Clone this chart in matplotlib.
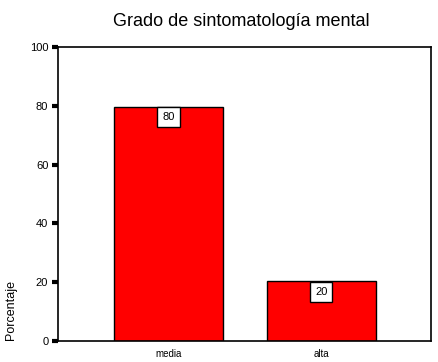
import matplotlib
matplotlib.use("Agg")
import matplotlib.pyplot as plt

categories = ["media", "alta"]
values = [79.7, 20.3]
labels = ["80", "20"]
yticks = [0, 20, 40, 60, 80, 100]

plt.rcParams['font.family'] = ['Liberation Sans', 'DejaVu Sans']

fig = plt.figure(figsize=(4.39, 3.62), dpi=100)
W, H = 439, 362
ax = fig.add_axes([58 / W, 1 - 341 / H, (431 - 58) / W, (341 - 47) / H])

x = list(range(len(categories)))
bars = ax.bar(x, values, width=0.715, color="#ff0000", edgecolor="black", linewidth=1.0)
ax.set_xlim(-0.725, 1.72)
ax.set_ylim(0, 100)
ax.set_yticks(yticks)
ax.set_yticklabels([str(t) for t in yticks], fontsize=8)
ax.set_xticks(x)
ax.set_xticklabels(categories, fontsize=7)
ax.tick_params(axis='y', direction='out', length=4, width=3, pad=3)
ax.tick_params(axis='x', length=0, pad=6)
for s in ax.spines.values():
    s.set_linewidth(1.2)

for b, lab in zip(bars, labels):
    ax.annotate(lab, (b.get_x() + b.get_width() / 2, b.get_height()),
                xytext=(0, -7.5), textcoords="offset points",
                ha="center", va="center", fontsize=8,
                bbox=dict(boxstyle="square,pad=0.45", fc="white", ec="black", lw=1.0))

fig.text(241 / W, 1 - 22 / H, "Grado de sintomatología mental", ha="center", va="center", fontsize=13)
fig.text(11 / W, 1 - 310 / H, "Porcentaje", rotation=90, ha="center", va="center", fontsize=9)

fig.savefig("out.png", dpi=100)
